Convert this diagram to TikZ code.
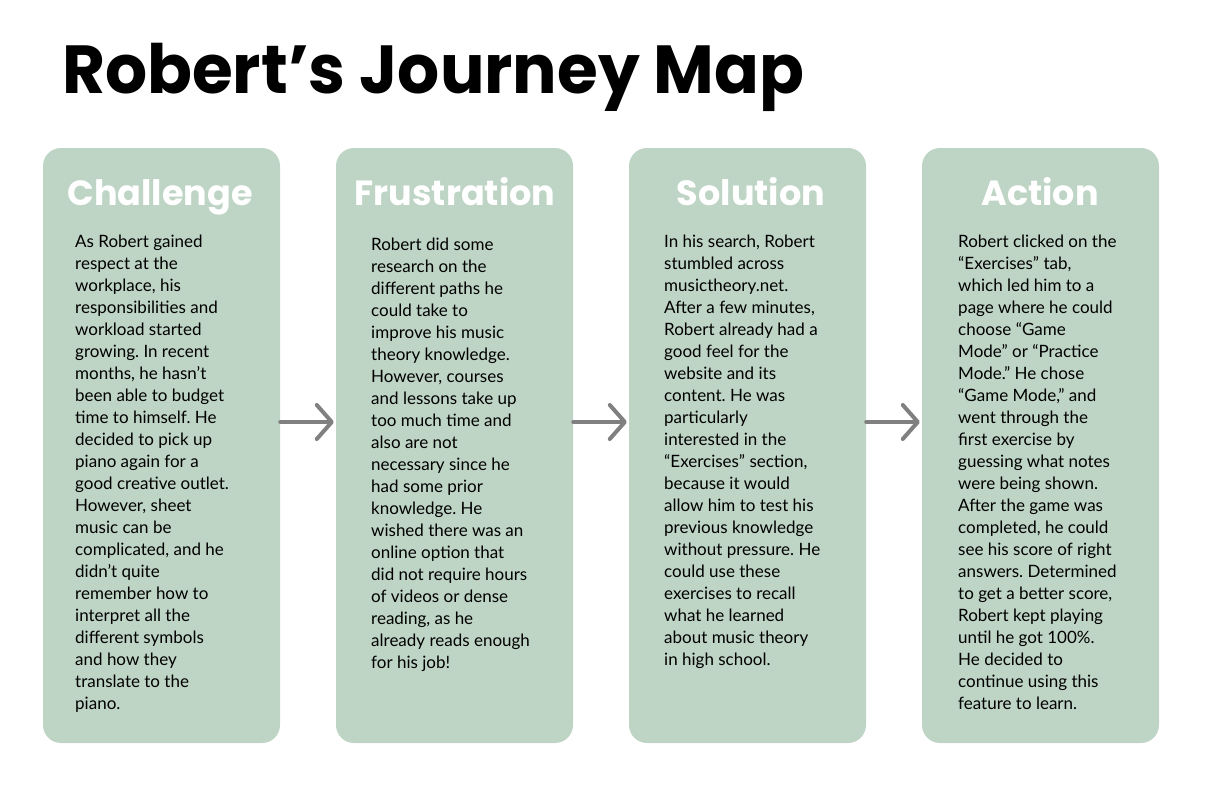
\documentclass[tikz,border=0pt]{standalone}
\usepackage{fontspec}
\setmainfont{Lato}
\newfontfamily\popfont{Poppins}
\usetikzlibrary{arrows.meta}
\frenchspacing
\definecolor{boxgreen}{HTML}{BED4C5}
\definecolor{arrowgray}{HTML}{808080}
\tikzset{
  card/.style={fill=boxgreen, draw=none, rounded corners=18pt, minimum width=237pt, minimum height=595pt, inner sep=0pt},
  head/.style={anchor=base, text=white, font=\popfont\bfseries\fontsize{35}{40}\selectfont, inner sep=0pt},
  body/.style={anchor=north west, align=left, inner sep=0pt, text=black, font=\frenchspacing\fontsize{17}{22}\selectfont},
  arr/.style={draw=arrowgray, line width=4pt, line cap=round, -{Straight Barb[length=15pt, width=34pt, round]}, shorten >=2pt},
}
\begin{document}
\begin{tikzpicture}[x=1pt, y=-1pt]
\useasboundingbox (0,0) rectangle (1220,800);
\node[anchor=base west, inner sep=0pt, xscale=0.972, transform shape, font=\popfont\bfseries\fontsize{68}{72}\selectfont] (title) at (62,93) {Robert’s Journey Map};

\node[card] (c1) at (161.5,445.5) {};
\node[card] (c2) at (454.5,445.5) {};
\node[card] (c3) at (747.5,445.5) {};
\node[card] (c4) at (1040.5,445.5) {};

\node[head] (h1) at (160,205) {Challenge};
\node[head] (h2) at (455,205) {Frustration};
\node[head] (h3) at (751,205) {Solution};
\node[head] (h4) at (1040,205) {Action};

\node[body] (t1) at (75,235) {As Robert gained\\respect at the\\workplace, his\\responsibilities and\\workload started\\growing. In recent\\months, he hasn’t\\been able to budget\\time to himself. He\\decided to pick up\\piano again for a\\good creative outlet.\\However, sheet\\music can be\\complicated, and he\\didn’t quite\\remember how to\\interpret all the\\different symbols\\and how they\\translate to the\\piano.};

\node[body] (t2) at (371,238) {Robert did some\\research on the\\different paths he\\could take to\\improve his music\\theory knowledge.\\However, courses\\and lessons take up\\too much time and\\also are not\\necessary since he\\had some prior\\knowledge. He\\wished there was an\\online option that\\did not require hours\\of videos or dense\\reading, as he\\already reads enough\\for his job!};

\node[body] (t3) at (664,235) {In his search, Robert\\stumbled across\\musictheory.net.\\After a few minutes,\\Robert already had a\\good feel for the\\website and its\\content. He was\\particularly\\interested in the\\“Exercises” section,\\because it would\\allow him to test his\\previous knowledge\\without pressure. He\\could use these\\exercises to recall\\what he learned\\about music theory\\in high school.};

\node[body] (t4) at (958,235) {Robert clicked on the\\“Exercises” tab,\\which led him to a\\page where he could\\choose “Game\\Mode” or “Practice\\Mode.” He chose\\“Game Mode,” and\\went through the\\first exercise by\\guessing what notes\\were being shown.\\After the game was\\completed, he could\\see his score of right\\answers. Determined\\to get a better score,\\Robert kept playing\\until he got 100\%.\\He decided to\\continue using this\\feature to learn.};

\draw[arr] ([yshift=23.5pt]c1.east) -- ([yshift=23.5pt]c2.west);
\draw[arr] ([yshift=23.5pt]c2.east) -- ([yshift=23.5pt]c3.west);
\draw[arr] ([yshift=23.5pt]c3.east) -- ([yshift=23.5pt]c4.west);
\end{tikzpicture}
\end{document}
